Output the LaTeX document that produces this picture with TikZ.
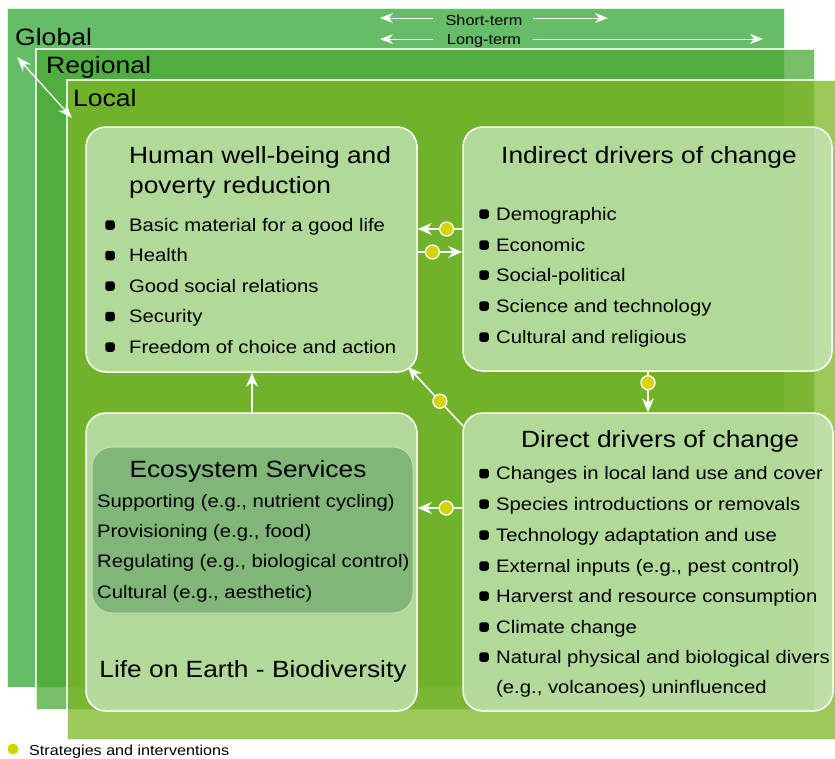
\documentclass[tikz,border=0pt]{standalone}
\usepackage{fontspec}
\setmainfont{Liberation Sans}[FakeStretch=1.12]
\usetikzlibrary{arrows.meta}
\definecolor{globalc}{RGB}{101,189,104}
\definecolor{regc}{RGB}{74,170,51}
\definecolor{locc}{RGB}{124,181,35}
\definecolor{boxc}{RGB}{205,235,200}
\definecolor{esc}{RGB}{128,183,121}
\definecolor{esline}{RGB}{195,222,185}
\definecolor{dotc}{RGB}{212,212,0}
\tikzset{
  frame/.style={draw=white, draw opacity=0.8, line width=1.5pt},
  box/.style={draw=white, line width=1.5pt, fill=boxc, fill opacity=0.7, text opacity=1, rounded corners=20pt, inner sep=0pt},
  esbox/.style={draw=esline, line width=1pt, fill=esc, rounded corners=20pt, inner sep=0pt},
  ttl/.style={font=\fontsize{23.5}{28}\selectfont, anchor=base, inner sep=0pt},
  ttlw/.style={font=\fontsize{23.5}{28}\selectfont, anchor=base west, inner sep=0pt},
  itm/.style={font=\fontsize{18.1}{22}\selectfont, anchor=base west, inner sep=0pt},
  bul/.style={fill=black, rounded corners=2.5pt, minimum size=9.5pt, inner sep=0pt},
  conn/.style={draw=white, line width=1.6pt, -{Stealth[length=14pt, width=12pt, inset=4.5pt]}},
  dot/.style={circle, fill=dotc, draw=white, line width=1.3pt, minimum size=14pt, inner sep=0pt},
  scalelbl/.style={font=\fontsize{23.7}{28}\selectfont, anchor=base west, inner sep=0pt},
  timelbl/.style={font=\fontsize{14.5}{17}\selectfont, anchor=base, inner sep=0pt},
  tarrow/.style={draw=white, line width=1pt, -{Stealth[length=13pt, width=10pt, inset=4pt]}},
  dblarrow/.style={draw=white, line width=1.3pt, {Stealth[length=15pt, width=11pt, inset=5pt]}-{Stealth[length=15pt, width=11pt, inset=5pt]}},
}
\begin{document}
\begin{tikzpicture}[x=1pt, y=-1pt]
\useasboundingbox (0,0) rectangle (835,758);
% scale frames
\path[fill=globalc, frame] (7,8) rectangle (785,688);
\path[fill=regc, fill opacity=0.75, frame] (36,49) rectangle (815,710);
\path[fill=locc, fill opacity=0.75, frame] (67,80) rectangle (840,740);
\node[scalelbl] (glob) at (15,45) {Global};
\node[scalelbl] (regi) at (46,73) {Regional};
\node[scalelbl] (loca) at (73,106) {Local};
\coordinate (sc1) at (17,57);
\coordinate (sc2) at (72,118);
\draw[dblarrow] (sc1) -- (sc2);
% time arrows
\node[timelbl] (st) at (484,25) {Short-term};
\node[timelbl] (lt) at (484,44) {Long-term};
\coordinate (st1) at (433,18); \coordinate (st2) at (380,18);
\coordinate (st3) at (533,18); \coordinate (st4) at (608,18);
\coordinate (lt1) at (433,39); \coordinate (lt2) at (380,39);
\coordinate (lt3) at (533,39); \coordinate (lt4) at (763,39);
\draw[tarrow] (st1) -- (st2);
\draw[tarrow] (st3) -- (st4);
\draw[tarrow] (lt1) -- (lt2);
\draw[tarrow] (lt3) -- (lt4);
% boxes
\node[box, minimum width=331pt, minimum height=245pt] (HW) at (251.5,249.5) {};
\node[box, minimum width=369pt, minimum height=244pt] (ID) at (647.5,249) {};
\node[box, minimum width=331pt, minimum height=298pt] (LE) at (251.5,562) {};
\node[box, minimum width=370pt, minimum height=298pt] (DD) at (648,562) {};
\node[esbox, minimum width=321pt, minimum height=166pt] (ES) at (252.5,530) {};
% Human well-being
\node[ttlw] (hwt1) at (129,163) {Human well-being and};
\node[ttlw] (hwt2) at (129,193) {poverty reduction};
\node[itm] (hw1) at (129,231) {Basic material for a good life};
\node[itm] (hw2) at (129,261.5) {Health};
\node[itm] (hw3) at (129,292) {Good social relations};
\node[itm] (hw4) at (129,322.5) {Security};
\node[itm] (hw5) at (129,353) {Freedom of choice and action};
\node[bul] (hwb1) at (110,225) {};
\node[bul] (hwb2) at (110,255.5) {};
\node[bul] (hwb3) at (110,286) {};
\node[bul] (hwb4) at (110,316.5) {};
\node[bul] (hwb5) at (110,347) {};
% Indirect drivers
\node[ttl] (idt) at (649,163) {Indirect drivers of change};
\node[itm] (id1) at (496,220) {Demographic};
\node[itm] (id2) at (496,251) {Economic};
\node[itm] (id3) at (496,281) {Social-political};
\node[itm] (id4) at (496,312) {Science and technology};
\node[itm] (id5) at (496,343) {Cultural and religious};
\node[bul] (idb1) at (484,214) {};
\node[bul] (idb2) at (484,245) {};
\node[bul] (idb3) at (484,275) {};
\node[bul] (idb4) at (484,306) {};
\node[bul] (idb5) at (484,337) {};
% Direct drivers
\node[ttl] (ddt) at (660,447) {Direct drivers of change};
\node[itm] (dd1) at (496,479.5) {Changes in local land use and cover};
\node[itm] (dd2) at (496,510) {Species introductions or removals};
\node[itm] (dd3) at (496,541) {Technology adaptation and use};
\node[itm] (dd4) at (496,572) {External inputs (e.g., pest control)};
\node[itm] (dd5) at (496,602) {Harverst and resource consumption};
\node[itm] (dd6) at (496,633) {Climate change};
\node[itm] (dd7) at (496,663) {Natural physical and biological divers};
\node[itm] (dd8) at (496,693) {(e.g., volcanoes) uninfluenced};
\node[bul] (ddb1) at (484,473.5) {};
\node[bul] (ddb2) at (484,504) {};
\node[bul] (ddb3) at (484,535) {};
\node[bul] (ddb4) at (484,566) {};
\node[bul] (ddb5) at (484,596) {};
\node[bul] (ddb6) at (484,627) {};
\node[bul] (ddb7) at (484,657) {};
% Ecosystem services
\node[ttl] (est) at (248,477) {Ecosystem Services};
\node[itm] (es1) at (97,507) {Supporting (e.g., nutrient cycling)};
\node[itm] (es2) at (97,537) {Provisioning (e.g., food)};
\node[itm] (es3) at (97,567) {Regulating (e.g., biological control)};
\node[itm] (es4) at (97,598) {Cultural (e.g., aesthetic)};
\node[ttl] (let) at (253,677) {Life on Earth - Biodiversity};
% connectors
\draw[conn] (ID.west |- 0,229) -- node[dot, pos=0.35] (d1) {} (HW.east |- 0,229);
\draw[conn] (HW.east |- 0,252) -- node[dot, pos=0.33] (d2) {} (ID.west |- 0,252);
\draw[conn] (ID.south -| 648,0) -- node[dot, pos=0.27] (d3) {} (DD.north -| 648,0);
\coordinate (dg1) at (463,426);
\coordinate (dg2) at (408,367);
\draw[conn] (dg1) -- node[dot, pos=0.42] (d4) {} (dg2);
\draw[conn] (DD.west |- 0,508) -- node[dot, pos=0.36] (d5) {} (LE.east |- 0,508);
\draw[conn] (LE.north -| 252,0) -- (HW.south -| 252,0);
% legend
\node[circle, fill=dotc, minimum size=11pt, inner sep=0pt] (ldot) at (13,749) {};
\node[font=\fontsize{14.4}{17}\selectfont, anchor=base west, inner sep=0pt] (ltxt) at (29,755) {Strategies and interventions};
\end{tikzpicture}
\end{document}
